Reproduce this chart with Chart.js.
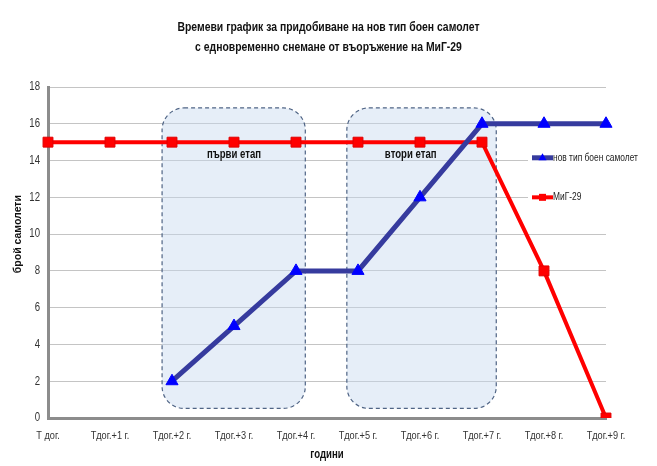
<!DOCTYPE html>
<html>
<head>
<meta charset="utf-8">
<script src="https://cdn.jsdelivr.net/npm/chart.js@4.4.0/dist/chart.umd.min.js"></script>
<style>
html,body{margin:0;padding:0;background:#fff;}
#wrap{width:657px;height:466px;}
</style>
</head>
<body>
<div id="wrap"><canvas id="c" width="657" height="466"></canvas></div>
<script>
const categories = ['T дог.','Tдог.+1 г.','Tдог.+2 г.','Tдог.+3 г.','Tдог.+4 г.','Tдог.+5 г.','Tдог.+6 г.','Tдог.+7 г.','Tдог.+8 г.','Tдог.+9 г.'];
const newPlane = [null, null, 2, 5, 8, 8, 12, 16, 16, 16];
const mig29 = [15, 15, 15, 15, 15, 15, 15, 15, 8, 0];
const seriesNames = ['нов тип боен самолет', 'МиГ-29'];
const titleLines = ['Времеви график за придобиване на нов тип боен самолет', 'с едновременно снемане от въоръжение на МиГ-29'];
const yTitle = 'брой самолети';
const xTitle = 'години';
const stageNames = ['първи етап', 'втори етап'];
// stage ranges in data units (category index)
const stageFrom = [1.84, 4.82];
const stageTo = [4.15, 7.23];
const stageLabelAt = [3.0, 5.85];

const FONT = "'Liberation Sans',Arial,sans-serif";
const BLUE_LINE = '#363b9e';
const BLUE_MARK = '#0000ff';
const RED = '#ff0000';
const NARROW = 0.8; // horizontal condensing of text, like the reference's narrow font

const canvas = document.getElementById('c');
const c2d = canvas.getContext('2d');
const plainFill = c2d.fillText.bind(c2d);
(function condenseText(ctx) {
  const measure = ctx.measureText.bind(ctx);
  ctx.fillText = function (text, x, y, maxWidth) {
    ctx.save();
    ctx.translate(x, y);
    ctx.scale(NARROW, 1);
    if (maxWidth !== undefined) plainFill(text, 0, 0, maxWidth / NARROW);
    else plainFill(text, 0, 0);
    ctx.restore();
  };
  ctx.measureText = function (text) {
    const m = measure(text);
    return {
      width: m.width * NARROW,
      actualBoundingBoxAscent: m.actualBoundingBoxAscent,
      actualBoundingBoxDescent: m.actualBoundingBoxDescent,
      actualBoundingBoxLeft: m.actualBoundingBoxLeft * NARROW,
      actualBoundingBoxRight: m.actualBoundingBoxRight * NARROW,
      fontBoundingBoxAscent: m.fontBoundingBoxAscent,
      fontBoundingBoxDescent: m.fontBoundingBoxDescent
    };
  };
})(c2d);

const stagesPlugin = {
  id: 'stages',
  beforeDatasetsDraw(chart) {
    const ctx = chart.ctx, xs = chart.scales.x, ys = chart.scales.y;
    ctx.save();
    for (let i = 0; i < stageNames.length; i++) {
      const x0 = xs.getPixelForValue(stageFrom[i]);
      const x1 = xs.getPixelForValue(stageTo[i]);
      const y0 = ys.getPixelForValue(16.86);
      const y1 = ys.getPixelForValue(0.52);
      ctx.beginPath();
      ctx.roundRect(x0, y0, x1 - x0, y1 - y0, 22);
      ctx.fillStyle = 'rgba(200,218,240,0.45)';
      ctx.fill();
      ctx.setLineDash([4, 3]);
      ctx.lineWidth = 1.2;
      ctx.strokeStyle = '#4f6485';
      ctx.stroke();
      ctx.setLineDash([]);
    }
    ctx.restore();
  },
  afterDatasetsDraw(chart) {
    const ctx = chart.ctx, xs = chart.scales.x, ys = chart.scales.y;
    ctx.save();
    ctx.font = "bold 12px " + FONT;
    ctx.fillStyle = '#111';
    ctx.textAlign = 'center';
    ctx.textBaseline = 'middle';
    for (let i = 0; i < stageNames.length; i++) {
      ctx.fillText(stageNames[i], xs.getPixelForValue(stageLabelAt[i]), ys.getPixelForValue(14.3));
    }
    // y axis title (regular width bold, like the reference)
    ctx.save();
    ctx.translate(18, ys.getPixelForValue(10));
    ctx.rotate(-Math.PI / 2);
    ctx.font = "bold 10.5px " + FONT;
    ctx.fillStyle = '#111';
    plainFill(yTitle, 0, 0);
    ctx.restore();
    // legend
    const lx = 528;
    ctx.fillStyle = '#fff';
    ctx.fillRect(lx, ys.getPixelForValue(15.0), 130, ys.getPixelForValue(11.2) - ys.getPixelForValue(15.0));
    const items = [
      {y: ys.getPixelForValue(14.15), line: BLUE_LINE, mark: BLUE_MARK, shape: 'tri', w: 5},
      {y: ys.getPixelForValue(12.0), line: RED, mark: RED, shape: 'sq', w: 4}
    ];
    items.forEach((it, k) => {
      ctx.strokeStyle = it.line;
      ctx.lineWidth = it.w;
      ctx.beginPath();
      ctx.moveTo(532, it.y);
      ctx.lineTo(553, it.y);
      ctx.stroke();
      ctx.fillStyle = it.mark;
      ctx.beginPath();
      if (it.shape === 'tri') {
        ctx.moveTo(542.5, it.y - 4.5);
        ctx.lineTo(546.5, it.y + 2.5);
        ctx.lineTo(538.5, it.y + 2.5);
        ctx.closePath();
      } else {
        ctx.rect(539, it.y - 3.5, 7, 7);
      }
      ctx.fill();
      ctx.fillStyle = '#222';
      ctx.font = "10.5px " + FONT;
      ctx.textAlign = 'left';
      ctx.fillText(seriesNames[k], 553, it.y);
    });
    ctx.restore();
  }
};

new Chart(canvas, {
  type: 'line',
  data: {
    labels: categories,
    datasets: [
      {
        label: seriesNames[0],
        data: newPlane,
        borderColor: BLUE_LINE,
        backgroundColor: BLUE_MARK,
        borderWidth: 5,
        pointStyle: 'triangle',
        pointRadius: 7,
        pointHoverRadius: 7,
        pointBackgroundColor: BLUE_MARK,
        pointBorderColor: BLUE_MARK,
        pointBorderWidth: 1,
        tension: 0,
        spanGaps: false
      },
      {
        label: seriesNames[1],
        data: mig29,
        borderColor: RED,
        backgroundColor: RED,
        borderWidth: 4,
        pointStyle: 'rect',
        pointRadius: 7,
        pointHoverRadius: 7,
        pointBackgroundColor: RED,
        pointBorderColor: '#e00000',
        pointBorderWidth: 1,
        tension: 0
      }
    ]
  },
  options: {
    responsive: false,
    animation: false,
    devicePixelRatio: 1,
    layout: { padding: { left: 0, right: 0, top: 0, bottom: 0 } },
    plugins: {
      legend: { display: false },
      tooltip: { enabled: false },
      title: {
        display: true,
        text: titleLines,
        color: '#111',
        font: { family: FONT, size: 13, weight: 'bold', lineHeight: 1.5 },
        padding: { top: 18, bottom: 30 }
      }
    },
    scales: {
      x: {
        offset: false,
        grid: { display: false, drawTicks: false },
        border: { display: true, color: '#8c8c8c', width: 3 },
        ticks: { color: '#333', font: { family: FONT, size: 11.5 }, padding: 11, maxRotation: 0, autoSkip: false },
        title: { display: true, text: xTitle, color: '#111', font: { family: FONT, size: 12, weight: 'bold' }, padding: { top: 6 } },
        afterFit(s) { s.height = 48; }
      },
      y: {
        min: 0,
        max: 18,
        ticks: { stepSize: 2, color: '#333', font: { family: FONT, size: 12 }, padding: 8 },
        grid: { color: '#c4c4c4', lineWidth: 1, drawTicks: false },
        border: { display: true, color: '#8c8c8c', width: 3 },
        title: { display: false },
        afterFit(s) { s.width = 48; }
      },
      yRight: {
        position: 'right',
        min: 0,
        max: 18,
        ticks: { display: false },
        grid: { display: false, drawTicks: false },
        border: { display: false },
        afterFit(s) { s.width = 51; }
      }
    }
  },
  plugins: [stagesPlugin]
});
</script>
</body>
</html>
